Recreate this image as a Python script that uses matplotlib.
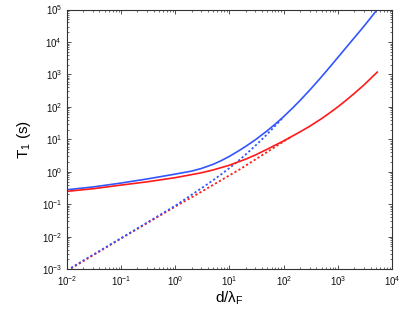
import numpy as np
import matplotlib
matplotlib.use("Agg")
import matplotlib.pyplot as plt

plt.rcParams['font.family'] = ['Liberation Sans', 'DejaVu Sans']
plt.rcParams['mathtext.fontset'] = 'custom'
plt.rcParams['mathtext.rm'] = 'Liberation Sans'
plt.rcParams['mathtext.it'] = 'Liberation Sans:italic'
plt.rcParams['mathtext.default'] = 'regular'

# ------------------------------
# Data
# ------------------------------
blue_x = [0.01, 0.03, 0.1, 0.3, 1, 2, 3, 5, 7, 10, 15, 20, 30, 50, 75, 100,
          150, 200, 300, 465, 710, 1500, 3000, 5300]
blue_y = [0.28, 0.34, 0.45, 0.6, 0.85, 1.05, 1.26, 1.7, 2.2, 3.0, 4.5, 6.1,
          9.7, 18.6, 32.8, 50.5, 97, 158, 327, 745, 1700, 7600, 30300, 1e5]

red_x = [0.01, 0.03, 0.1, 0.3, 1, 3, 5, 10, 20, 30, 50, 100, 200, 300, 500,
         700, 1000, 1400, 2000, 3000, 5300]
red_y = [0.25, 0.30, 0.39, 0.49, 0.66, 0.93, 1.14, 1.6, 2.46, 3.3, 5.0,
         9.0, 17.0, 25.2, 43.6, 65, 101, 158, 260, 471, 1180]

blue_dot_x = [0.012, 0.1, 1, 2, 3, 5, 7, 10, 15, 20, 30, 45, 60, 80, 100]
blue_dot_y = [0.0011, 0.009, 0.09, 0.196, 0.307, 0.552, 0.83, 1.31, 2.27,
              3.44, 6.38, 12.3, 20.1, 33.4, 50]

red_dot_x = [0.012, 0.1, 1, 3, 10, 15.6, 30, 60, 85, 130]
red_dot_y = [0.00105, 0.0088, 0.085, 0.24, 0.78, 1.2, 2.4, 5.0, 7.3, 11.3]

BLUE = '#3355ff'
RED = '#ff1a1a'

fig = plt.figure(figsize=(4.15, 3.09), dpi=100)
ax = fig.add_axes([0.161, 0.129, 0.784, 0.84])

dots = (0, (1.2, 1.3))
ax.plot(red_dot_x, red_dot_y, color=RED, lw=1.3, ls=dots)
ax.plot(blue_dot_x, blue_dot_y, color=BLUE, lw=1.3, ls=dots)
ax.plot(blue_x, blue_y, color=BLUE, lw=1.2)
ax.plot(red_x, red_y, color=RED, lw=1.2)

ax.set_xscale('log')
ax.set_yscale('log')
ax.set_xlim(1e-2, 1e4)
ax.set_ylim(1e-3, 1e5)
ax.set_xticks([1e-2, 1e-1, 1e0, 1e1, 1e2, 1e3, 1e4])
ax.set_yticks([1e-3, 1e-2, 1e-1, 1e0, 1e1, 1e2, 1e3, 1e4, 1e5])

for s in ax.spines.values():
    s.set_color('#333333')
    s.set_linewidth(0.8)
ax.tick_params(which='both', direction='in', top=True, right=True,
               colors='#333333', labelcolor='#111111', labelsize=7)
ax.tick_params(which='major', length=3, width=0.6)
ax.tick_params(which='minor', length=1.6, width=0.5)

ax.set_xlabel(r'd/$\lambda_F$', fontsize=11, labelpad=1)
ax.set_ylabel(r'T$_1$ (s)', fontsize=11, labelpad=6)

fig.savefig('out.png', dpi=100)
